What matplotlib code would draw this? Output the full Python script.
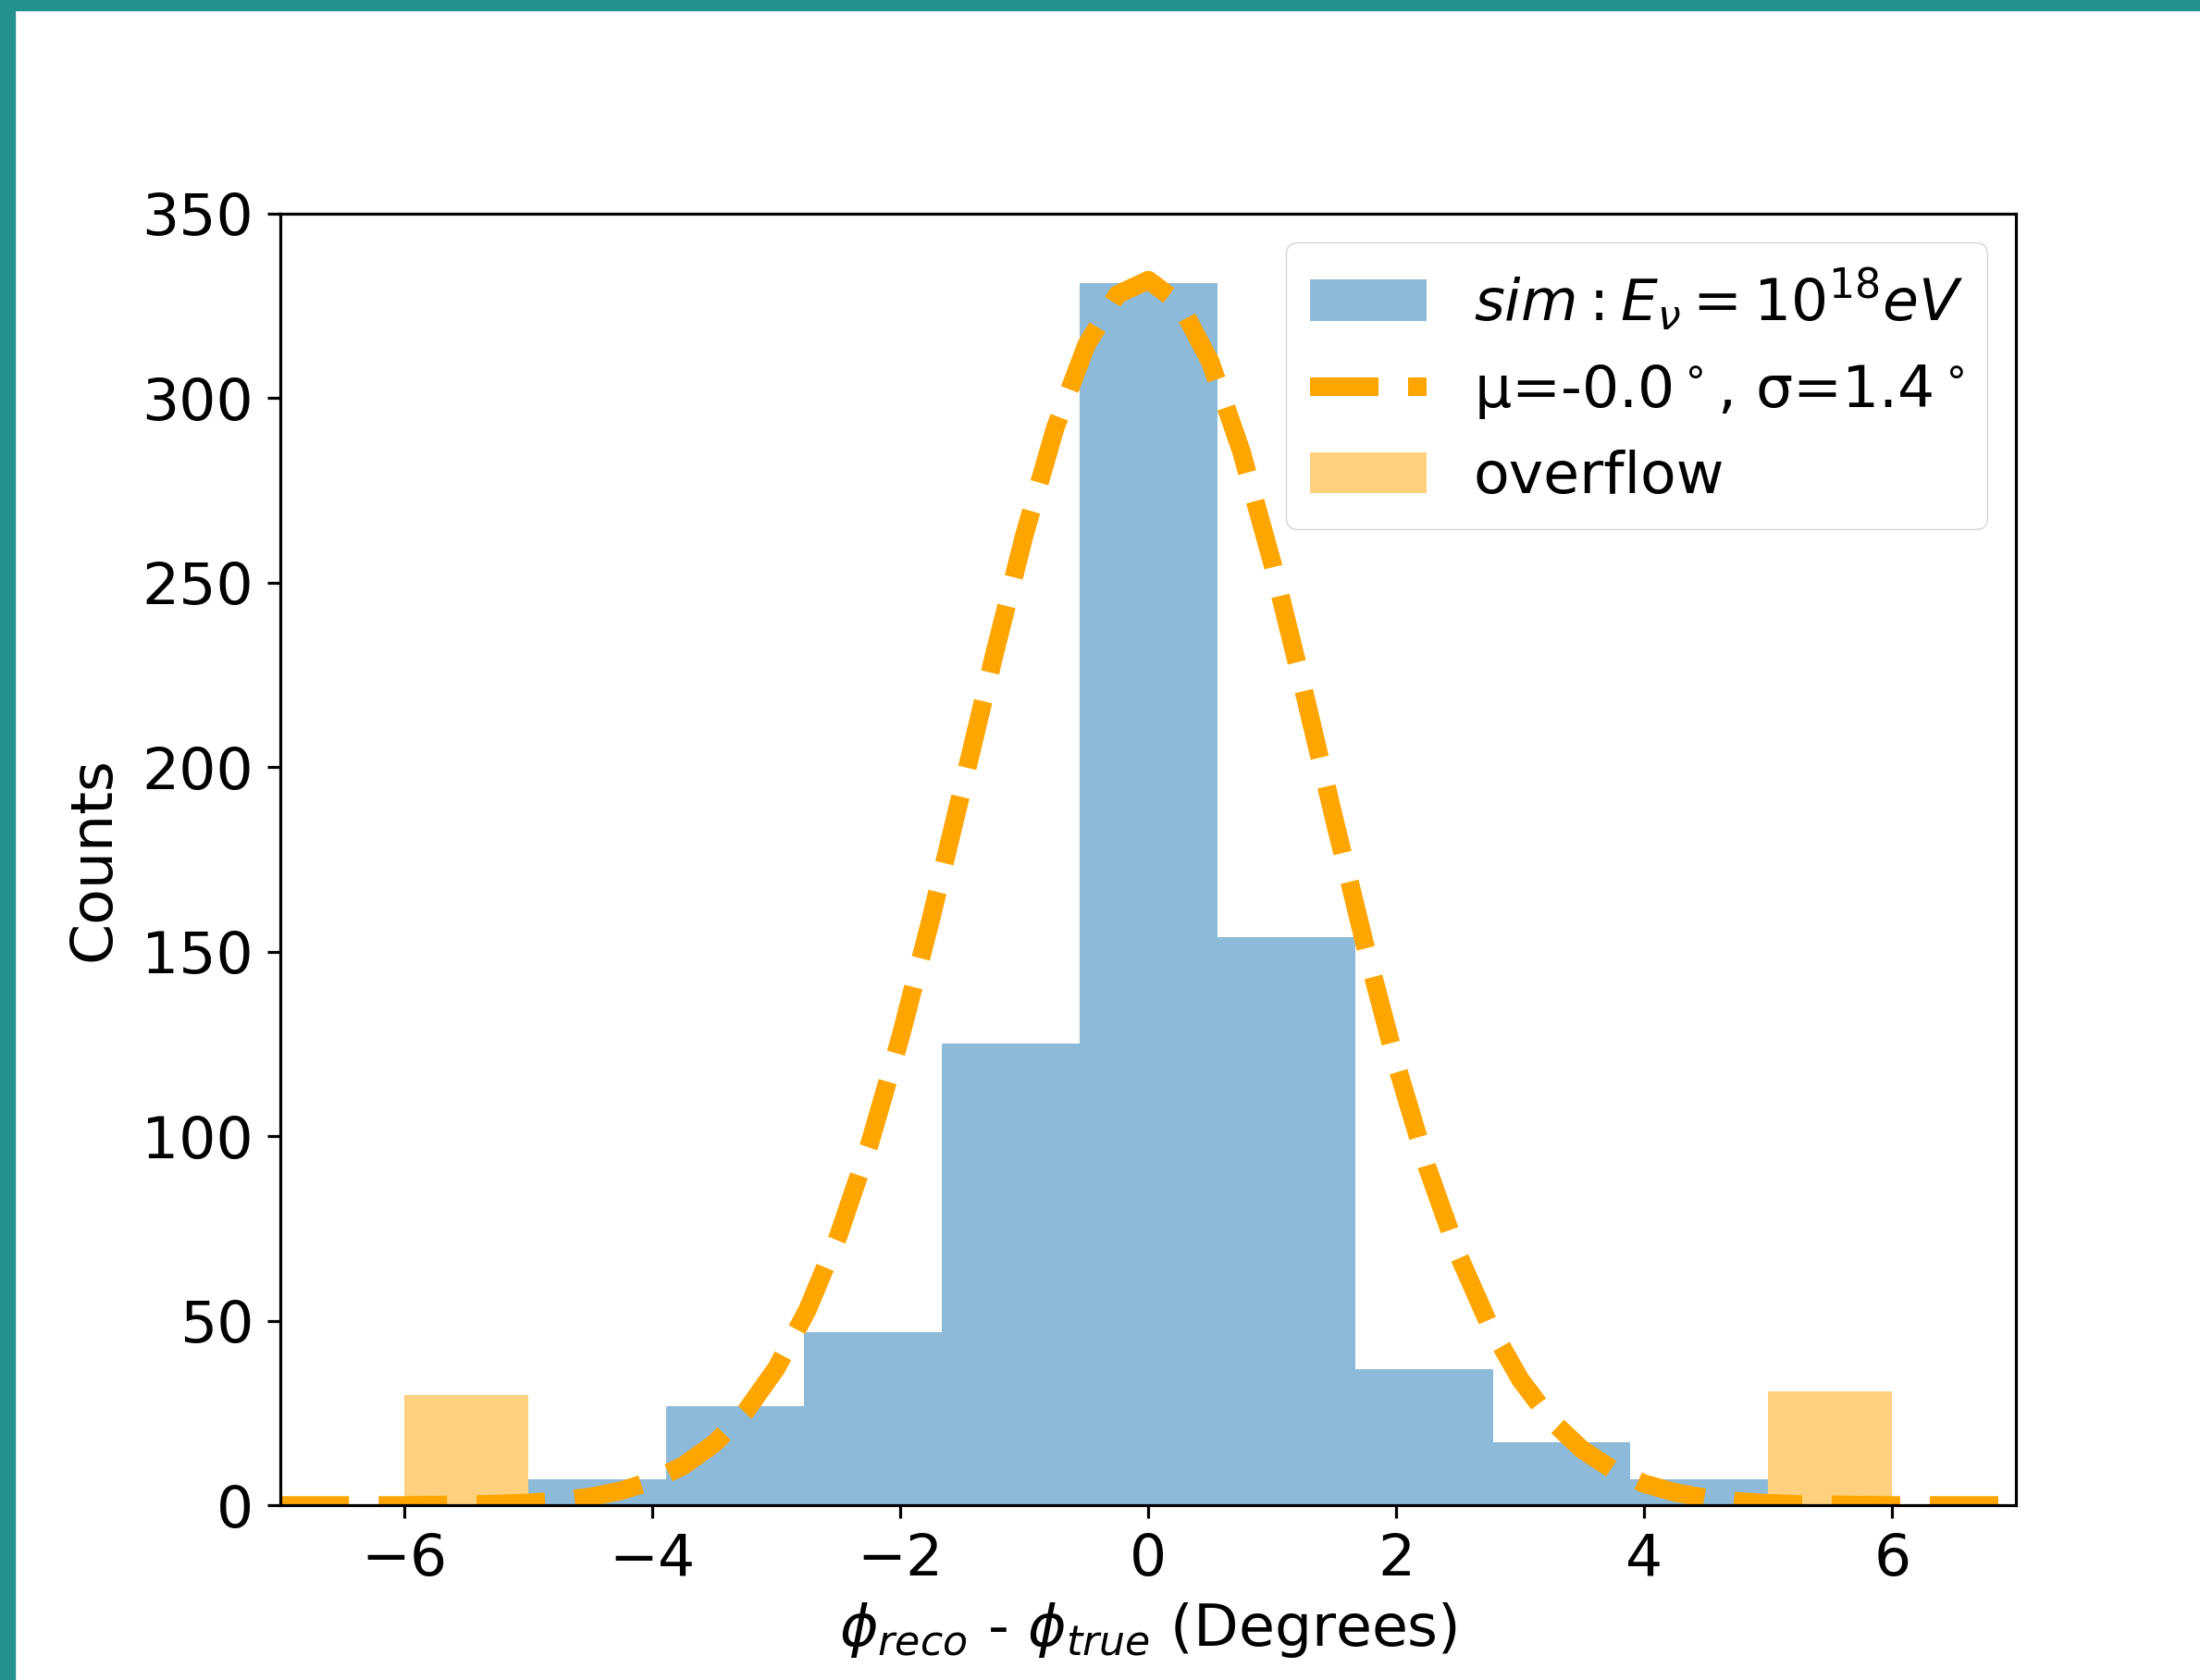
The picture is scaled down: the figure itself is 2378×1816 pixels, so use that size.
import numpy as np
import matplotlib
matplotlib.use("Agg")
import matplotlib.pyplot as plt
from matplotlib.patches import Rectangle

# histogram of phi_reco - phi_true (9 bins between -5 and 5)
bin_edges = np.linspace(-5, 5, 10)
counts = [7, 27, 47, 125, 331, 154, 37, 17, 7]

# overflow bins, drawn just outside the range
overflow_left = [-6, -5]
overflow_right = [5, 6]
overflow_counts = [30, 31]

# gaussian fit curve
fit_x = [-7.0, -6.75, -6.5, -6.25, -6.0, -5.75, -5.5, -5.25, -5.0, -4.75,
         -4.5, -4.25, -4.0, -3.75, -3.5, -3.25, -3.0, -2.75, -2.5, -2.25,
         -2.0, -1.75, -1.5, -1.25, -1.0, -0.75, -0.5, -0.25, 0.0, 0.25,
         0.5, 0.75, 1.0, 1.25, 1.5, 1.75, 2.0, 2.25, 2.5, 2.75,
         3.0, 3.25, 3.5, 3.75, 4.0, 4.25, 4.5, 4.75, 5.0, 5.25,
         5.5, 5.75, 6.0, 6.25, 6.5, 6.75, 7.0]
fit_y = [0.0, 0.0, 0.0, 0.0, 0.0, 0.1, 0.2, 0.4, 0.7, 1.3,
         2.3, 4.0, 6.7, 10.8, 16.8, 25.4, 37.2, 53.0, 73.1, 97.8,
         126.8, 159.4, 194.3, 229.5, 262.9, 292.0, 314.3, 328.0, 331.9, 325.6,
         309.7, 285.5, 255.2, 221.2, 185.8, 151.4, 119.5, 91.5, 67.9, 48.9,
         34.1, 23.0, 15.1, 9.6, 5.9, 3.5, 2.0, 1.1, 0.6, 0.3,
         0.2, 0.1, 0.0, 0.0, 0.0, 0.0, 0.0]

fit_label = 'μ=-0.0$^\\circ$, σ=1.4$^\\circ$'
sim_label = r'$sim: E_{\nu} = 10^{18} eV$'

plt.rcParams['font.size'] = 45.5
plt.rcParams['axes.linewidth'] = 2.3
plt.rcParams['xtick.major.size'] = 10
plt.rcParams['ytick.major.size'] = 10
plt.rcParams['xtick.major.width'] = 2.3
plt.rcParams['ytick.major.width'] = 2.3
plt.rcParams['xtick.major.pad'] = 11
plt.rcParams['ytick.major.pad'] = 11

fig = plt.figure(figsize=(23.78, 18.16), dpi=100)
ax = fig.add_axes([0.12755, 0.10391, 0.78890, 0.76916])

# teal frame on the top and left edge of the screenshot
fig.patches.append(Rectangle((0, 1 - 11 / 1816), 1, 11 / 1816, transform=fig.transFigure,
                             color='#22918F', zorder=10))
fig.patches.append(Rectangle((0, 0), 16 / 2378, 1, transform=fig.transFigure,
                             color='#22918F', zorder=10))

h_sim = ax.bar(bin_edges[:-1], counts, width=np.diff(bin_edges), align='edge',
               color='tab:blue', alpha=0.5, label=sim_label)
h_fit, = ax.plot(fit_x, fit_y, '--', color='orange', lw=14.4, label=fit_label)
h_over = ax.bar([overflow_left[0], overflow_right[0]], overflow_counts, width=1, align='edge',
                color='orange', alpha=0.5, label='overflow')

ax.set_xlim(-7, 7)
ax.set_ylim(0, 350)
ax.set_xlabel(r'$\phi_{reco}$ - $\phi_{true}$ (Degrees)', labelpad=10)
ax.set_ylabel('Counts', labelpad=16)

ax.legend(handles=[h_sim, h_fit, h_over], loc='upper right')

fig.savefig('out.png', dpi=100)
